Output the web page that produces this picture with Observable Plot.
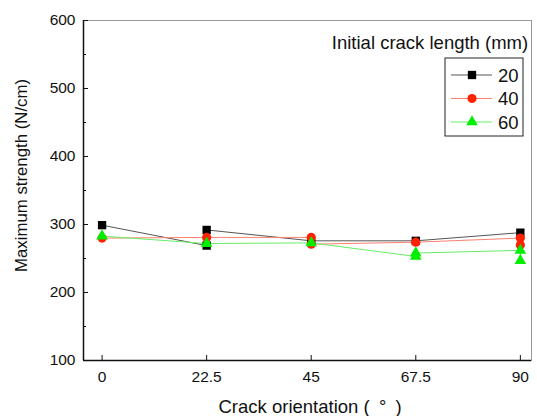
<!DOCTYPE html>
<html><head><meta charset="utf-8">
<script src="https://cdn.jsdelivr.net/npm/d3@7"></script>
<script src="https://cdn.jsdelivr.net/npm/@observablehq/plot@0.6"></script>
<style>
body{margin:0;background:#fff;}
#wrap{position:relative;width:537px;height:416px;font-family:"Liberation Sans",Arial,sans-serif;}
#legend{position:absolute;left:0;top:0;pointer-events:none;}
</style></head><body><div id="wrap"></div>
<script>
const xTicks = [0, 22.5, 45, 67.5, 90];
const yTicks = [100, 200, 300, 400, 500, 600];
const yMinorTicks = [150, 250, 350, 450, 550];
const seriesNames = ["20", "40", "60"];
const legendTitle = "Initial crack length (mm)";
const xTitle = "Crack orientation (\u2002°\u2002)";
const yTitle = "Maximum strength (N/cm)";

const orientation20 = [0, 22.5, 22.5, 45, 67.5, 90];
const strength20 = [299, 269, 292, 276, 276, 288];
const orientation40 = [0, 22.5, 45, 45, 67.5, 90, 90];
const strength40 = [280, 281, 281, 271, 274, 280, 270];
const orientation60 = [0, 22.5, 45, 67.5, 67.5, 90, 90];
const strength60 = [283, 272, 273, 253, 258, 262, 247];

const markerColors = ["#000000", "#ff2200", "#00ee00"];
const lineColors = ["#555555", "#ff8070", "#66ee66"];
const symbols = ["square", "circle", "triangle"];
const radii = [4.7, 4.6, 4.3];

const series = [
  {xs: orientation20, ys: strength20},
  {xs: orientation40, ys: strength40},
  {xs: orientation60, ys: strength60}
].map((s, k) => s.xs.map((x, i) => ({x, y: s.ys[i], k})));

const xDomain = [-4, 92.4];
const marks = [];
marks.push(Plot.frame({stroke: "#999"}));
series.forEach((d, k) => {
  marks.push(Plot.line(d, {x: "x", y: "y", stroke: lineColors[k], strokeWidth: 1}));
});
series.forEach((d, k) => {
  marks.push(Plot.dot(d, {x: "x", y: "y", symbol: symbols[k], r: radii[k], fill: markerColors[k], stroke: "none"}));
});
marks.push(Plot.ruleX([xDomain[0]], {stroke: "#111", strokeWidth: 1.5}));
marks.push(Plot.ruleY([100], {stroke: "#111", strokeWidth: 1.5}));
marks.push(Plot.axisY({ticks: yTicks, tickSize: -5, tickPadding: 13, label: null, tickFormat: d => String(d), stroke: "#111", fill: "#111"}));
marks.push(Plot.axisY({ticks: yMinorTicks, tickSize: -3, tickPadding: 0, label: null, tickFormat: () => "", stroke: "#111"}));
marks.push(Plot.axisX({ticks: xTicks, tickSize: -5, tickPadding: 15, label: null, tickFormat: d => String(d), stroke: "#111", fill: "#111"}));
marks.push(Plot.text([yTitle], {frameAnchor: "left", textAnchor: "middle", lineAnchor: "middle", dx: -62, dy: -15, rotate: -90, fontSize: 16.8, fill: "#111"}));
marks.push(Plot.text([xTitle], {frameAnchor: "bottom-left", textAnchor: "start", lineAnchor: "middle", dx: 135, dy: 47, fontSize: 18.5, fill: "#111"}));

const chart = Plot.plot({
  width: 537, height: 416,
  marginLeft: 83, marginRight: 6, marginTop: 20, marginBottom: 56,
  x: {domain: xDomain},
  y: {domain: [100, 600]},
  style: {fontFamily: "'Liberation Sans', Arial, sans-serif", fontSize: "15.5px", background: "white", color: "#111"},
  marks
});
const wrap = document.getElementById("wrap");
wrap.appendChild(chart);

// legend overlay
const lg = d3.select(wrap).append("svg").attr("id", "legend").attr("width", 537).attr("height", 416)
  .style("font-family", "'Liberation Sans', Arial, sans-serif");
lg.append("text").attr("x", 430).attr("y", 42).attr("text-anchor", "middle").attr("dominant-baseline", "central")
  .attr("font-size", 18.5).attr("fill", "#111").text(legendTitle);
lg.append("rect").attr("x", 445).attr("y", 58).attr("width", 78).attr("height", 78)
  .attr("fill", "white").attr("stroke", "#222").attr("stroke-width", 1);
const symMap = {square: d3.symbolSquare, circle: d3.symbolCircle, triangle: d3.symbolTriangle};
seriesNames.forEach((name, k) => {
  const y = 75 + k * 23.5;
  lg.append("line").attr("x1", 451).attr("x2", 492).attr("y1", y).attr("y2", y)
    .attr("stroke", lineColors[k]).attr("stroke-width", 1);
  lg.append("path").attr("transform", `translate(472,${y})`)
    .attr("d", d3.symbol(symMap[symbols[k]], radii[k] * radii[k] * Math.PI)())
    .attr("fill", markerColors[k]);
  lg.append("text").attr("x", 498).attr("y", y).attr("dominant-baseline", "central")
    .attr("font-size", 18.5).attr("fill", "#111").text(name);
});
</script></body></html>
